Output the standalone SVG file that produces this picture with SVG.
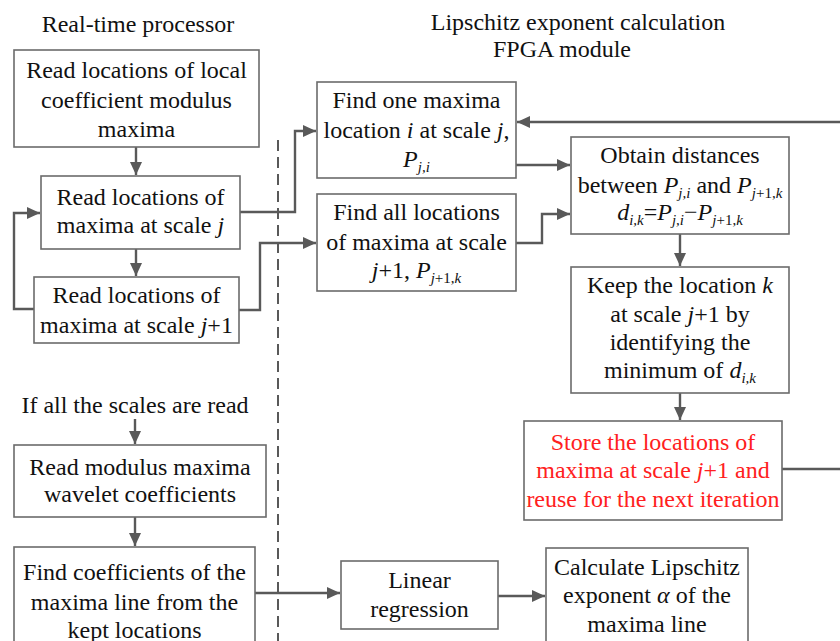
<svg xmlns="http://www.w3.org/2000/svg" width="840" height="641" viewBox="0 0 840 641">
<style>
.box{fill:#fff;stroke:#6b6b6b;stroke-width:1.6}
.t{font-family:"Liberation Serif","Times New Roman",serif;font-size:24px;text-anchor:middle;fill:#111}
.i{font-style:italic}
.s{font-size:15px}
.c{fill:none;stroke:#595959;stroke-width:2.4}
.red{fill:#ff2020}
.dash{fill:none;stroke:#595959;stroke-width:2;stroke-dasharray:11 6}
</style>
<defs>
<marker id="ah" markerUnits="userSpaceOnUse" markerWidth="14" markerHeight="12" refX="13" refY="6" orient="auto">
<path d="M0,0 L13,6 L0,12 z" fill="#595959"/>
</marker>
</defs>
<rect width="840" height="641" fill="#fff"/>

<g id="titles">
<text class="t" x="138" y="32">Real-time processor</text>
<text class="t" x="578" y="30">Lipschitz exponent calculation</text>
<text class="t" x="562" y="57">FPGA module</text>
</g>

<line class="dash" x1="278" y1="140" x2="278" y2="641"/>

<g id="connectors">
<path class="c" d="M136,147 V175" marker-end="url(#ah)"/>
<path class="c" d="M136,249 V276" marker-end="url(#ah)"/>
<path class="c" d="M34,309 H14 V213 H40" marker-end="url(#ah)"/>
<path class="c" d="M240,212 H295 V131 H316" marker-end="url(#ah)"/>
<path class="c" d="M239,310 H260 V243 H316" marker-end="url(#ah)"/>
<path class="c" d="M516,165 H570" marker-end="url(#ah)"/>
<path class="c" d="M516,243 H542 V214 H570" marker-end="url(#ah)"/>
<path class="c" d="M680,234 V266" marker-end="url(#ah)"/>
<path class="c" d="M680,393 V420" marker-end="url(#ah)"/>
<path class="c" d="M782,469 H850 V122 H517" marker-end="url(#ah)"/>
<path class="c" d="M135,419 V444" marker-end="url(#ah)"/>
<path class="c" d="M135,517 V546" marker-end="url(#ah)"/>
<path class="c" d="M255,593 H340" marker-end="url(#ah)"/>
<path class="c" d="M498,596 H545" marker-end="url(#ah)"/>
</g>

<g id="n1">
<rect class="box" x="14" y="50" width="245" height="97"/>
<text class="t" x="136.5" y="78">Read locations of  local</text>
<text class="t" x="136.5" y="108">coefficient modulus</text>
<text class="t" x="136.5" y="137">maxima</text>
</g>
<g id="n2">
<rect class="box" x="41" y="176" width="199" height="73"/>
<text class="t" x="140.5" y="205">Read locations of</text>
<text class="t" x="140.5" y="233">maxima at scale <tspan class="i">j</tspan></text>
</g>
<g id="n3">
<rect class="box" x="34" y="277" width="205" height="66"/>
<text class="t" x="136.5" y="303">Read locations of</text>
<text class="t" x="136.5" y="333">maxima at scale <tspan class="i">j</tspan>+1</text>
</g>
<g id="n4">
<text class="t" x="135" y="413">If all the scales are read</text>
</g>
<g id="n5">
<rect class="box" x="14" y="445" width="252" height="72"/>
<text class="t" x="140" y="475">Read modulus maxima</text>
<text class="t" x="140" y="502">wavelet coefficients</text>
</g>
<g id="n6">
<rect class="box" x="14" y="547" width="241" height="110"/>
<text class="t" x="134.5" y="580">Find coefficients of the</text>
<text class="t" x="134.5" y="610">maxima line from the</text>
<text class="t" x="134.5" y="638">kept locations</text>
</g>
<g id="n7">
<rect class="box" x="317" y="82" width="199" height="96"/>
<text class="t" x="416.5" y="108">Find one maxima</text>
<text class="t" x="416.5" y="138">location <tspan class="i">i</tspan> at scale <tspan class="i">j</tspan>,</text>
<text class="t" x="416.5" y="167"><tspan class="i">P</tspan><tspan class="s i" dy="5">j,i</tspan></text>
</g>
<g id="n8">
<rect class="box" x="317" y="194" width="199" height="97"/>
<text class="t" x="416.5" y="220">Find all locations</text>
<text class="t" x="416.5" y="250">of maxima at scale</text>
<text class="t" x="416.5" y="278"><tspan class="i">j</tspan>+1, <tspan class="i">P</tspan><tspan class="s" dy="5"><tspan class="i">j</tspan>+1,<tspan class="i">k</tspan></tspan></text>
</g>
<g id="n9">
<rect class="box" x="571" y="137" width="218" height="97"/>
<text class="t" x="680" y="163">Obtain distances</text>
<text class="t" x="680" y="193">between <tspan class="i">P</tspan><tspan class="s i" dy="5">j,i</tspan><tspan dy="-5"> and </tspan><tspan class="i">P</tspan><tspan class="s" dy="5"><tspan class="i">j</tspan>+1,<tspan class="i">k</tspan></tspan></text>
<text class="t" x="680" y="220"><tspan class="i">d</tspan><tspan class="s i" dy="5">i,k</tspan><tspan dy="-5">=</tspan><tspan class="i">P</tspan><tspan class="s i" dy="5">j,i</tspan><tspan dy="-5">−</tspan><tspan class="i">P</tspan><tspan class="s" dy="5"><tspan class="i">j</tspan>+1,<tspan class="i">k</tspan></tspan></text>
</g>
<g id="n10">
<rect class="box" x="571" y="267" width="218" height="126"/>
<text class="t" x="680" y="293">Keep the location <tspan class="i">k</tspan></text>
<text class="t" x="680" y="322">at scale <tspan class="i">j</tspan>+1 by</text>
<text class="t" x="680" y="350">identifying the</text>
<text class="t" x="680" y="378">minimum of <tspan class="i">d</tspan><tspan class="s i" dy="5">i,k</tspan></text>
</g>
<g id="n11">
<rect class="box" x="524" y="421" width="258" height="99"/>
<text class="t red" x="653" y="450">Store the locations of</text>
<text class="t red" x="653" y="478">maxima at scale <tspan class="i">j</tspan>+1 and</text>
<text class="t red" x="653" y="507">reuse for the next iteration</text>
</g>
<g id="n12">
<rect class="box" x="341" y="561" width="157" height="68"/>
<text class="t" x="419.5" y="588">Linear</text>
<text class="t" x="419.5" y="617">regression</text>
</g>
<g id="n13">
<rect class="box" x="546" y="548" width="202" height="110"/>
<text class="t" x="647" y="575">Calculate Lipschitz</text>
<text class="t" x="647" y="603">exponent <tspan class="i">α</tspan> of the</text>
<text class="t" x="647" y="632">maxima line</text>
</g>
</svg>
